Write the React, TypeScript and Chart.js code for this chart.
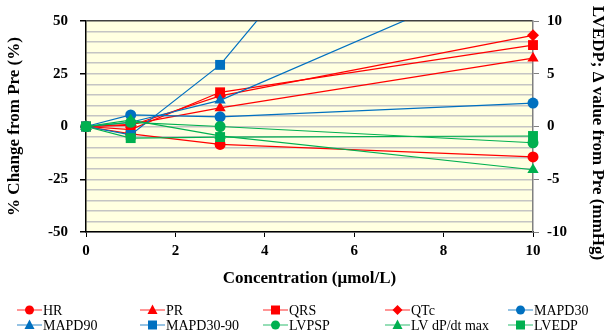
import React, { useEffect, useRef } from "react";
import { Chart, registerables } from "chart.js";
Chart.register(...registerables);

const concentrations = [0, 1, 3, 10];
const xTicks = [0, 2, 4, 6, 8, 10];
const HR = [0, -3.5, -8.5, -14.4];
const PR = [0, 1, 8.8, 32.4];
const QRS = [0, -1.5, 16.2, 38.6];
const QTc = [0, 0.5, 14.5, 43.2];
const MAPD30 = [0, 5.5, 4.6, 11.1];
const MAPD90 = [0, 2, 12.4, 76.5];
const MAPD30_90 = [0, -4, 29.2, 207];
const LVPSP = [0, 2, 0, -7.7];
const LVdPdtMax = [0, 3, -4.4, -20.5];
const LVEDP = [0, -1.1, -1.0, -0.9];
const rightAxisTitle = "LVEDP; Δ value from Pre (mmHg)";

const RED = "#FF0000";
const BLUE = "#0070C0";
const GREEN = "#00B050";
const FONT = "'Liberation Serif', 'Times New Roman', serif";

type S = { name: string; data: number[]; color: string; style: string; axis: string };
const series: S[] = [
  { name: "HR", data: HR, color: RED, style: "circle", axis: "y" },
  { name: "PR", data: PR, color: RED, style: "triangle", axis: "y" },
  { name: "QRS", data: QRS, color: RED, style: "rect", axis: "y" },
  { name: "QTc", data: QTc, color: RED, style: "rectRot", axis: "y" },
  { name: "MAPD30", data: MAPD30, color: BLUE, style: "circle", axis: "y" },
  { name: "MAPD90", data: MAPD90, color: BLUE, style: "triangle", axis: "y" },
  { name: "MAPD30-90", data: MAPD30_90, color: BLUE, style: "rect", axis: "y" },
  { name: "LVPSP", data: LVPSP, color: GREEN, style: "circle", axis: "y" },
  { name: "LV dP/dt max", data: LVdPdtMax, color: GREEN, style: "triangle", axis: "y" },
  { name: "LVEDP", data: LVEDP, color: GREEN, style: "rect", axis: "y1" },
];

function radiusFor(style: string) {
  if (style === "rect") return 7;
  if (style === "rectRot") return 6;
  if (style === "triangle") return 6.5;
  return 5.5;
}

function drawMarker(ctx: CanvasRenderingContext2D, style: string, x: number, y: number, r: number, color: string) {
  ctx.save();
  ctx.fillStyle = color;
  ctx.beginPath();
  if (style === "circle") {
    ctx.arc(x, y, r, 0, Math.PI * 2);
  } else if (style === "rect") {
    ctx.rect(x - r, y - r, 2 * r, 2 * r);
  } else if (style === "triangle") {
    ctx.moveTo(x, y - r * 1.1);
    ctx.lineTo(x + r, y + r * 0.8);
    ctx.lineTo(x - r, y + r * 0.8);
    ctx.closePath();
  } else if (style === "rectRot") {
    ctx.moveTo(x, y - r);
    ctx.lineTo(x + r, y);
    ctx.lineTo(x, y + r);
    ctx.lineTo(x - r, y);
    ctx.closePath();
  }
  ctx.fill();
  ctx.restore();
}

const bgPlugin = {
  id: "bg",
  beforeDraw(chart: any) {
    const { ctx, chartArea } = chart;
    ctx.save();
    ctx.fillStyle = "#FFFFE1";
    ctx.fillRect(chartArea.left, chartArea.top, chartArea.right - chartArea.left, chartArea.bottom - chartArea.top);
    ctx.restore();
  },
};

const legendPlugin = {
  id: "customLegend",
  afterDraw(chart: any) {
    const ctx: CanvasRenderingContext2D = chart.ctx;
    const colX = [17, 140, 263, 385, 508];
    const rowY = [310, 325];
    ctx.save();
    ctx.font = `14px ${FONT}`;
    ctx.textBaseline = "middle";
    series.forEach((s, i) => {
      const x = colX[i % 5];
      const y = rowY[Math.floor(i / 5)];
      ctx.strokeStyle = s.color;
      ctx.globalAlpha = 0.55;
      ctx.lineWidth = 1.5;
      ctx.beginPath();
      ctx.moveTo(x, y);
      ctx.lineTo(x + 25, y);
      ctx.stroke();
      ctx.globalAlpha = 1;
      const r = s.style === "rect" ? 4.5 : s.style === "circle" ? 4.5 : 5;
      drawMarker(ctx, s.style, x + 12.5, y, r, s.color);
      ctx.fillStyle = "#000";
      ctx.fillText(s.name, x + 26, y + 1);
    });
    // right axis title
    ctx.translate(597, 133);
    ctx.rotate(Math.PI / 2);
    ctx.font = `bold 17px ${FONT}`;
    ctx.textAlign = "center";
    ctx.textBaseline = "middle";
    ctx.fillText(rightAxisTitle, 0, 0);
    ctx.restore();
  },
};

export default function App() {
  const ref = useRef<HTMLCanvasElement | null>(null);
  useEffect(() => {
    document.body.style.margin = "0";
    const canvas = ref.current;
    if (!canvas) return;
    const chart = new Chart(canvas, {
      type: "line",
      data: {
        datasets: series.map((s, i) => ({
          label: s.name,
          data: concentrations.map((c, j) => ({ x: c, y: s.data[j] })),
          borderColor: s.color,
          backgroundColor: s.color,
          borderWidth: 1.2,
          pointStyle: s.style as any,
          pointRadius: radiusFor(s.style),
          pointBorderWidth: 0,
          pointBackgroundColor: s.color,
          yAxisID: s.axis,
          order: -i,
          clip: { left: 12, right: 12, top: 0, bottom: 12 } as any,
          tension: 0,
        })),
      },
      plugins: [bgPlugin, legendPlugin],
      options: {
        animation: false,
        responsive: false,
        devicePixelRatio: 1,
        layout: { padding: { top: 17, bottom: 44, left: 0, right: 0 } },
        plugins: { legend: { display: false }, tooltip: { enabled: false } },
        scales: {
          x: {
            type: "linear",
            min: 0,
            max: 10,
            afterBuildTicks: (scale: any) => {
              scale.ticks = xTicks.map((v) => ({ value: v }));
            },
            afterFit: (scale: any) => {
              scale.height = 58;
            },
            ticks: {
              color: "#000",
              font: { family: FONT, size: 15, weight: "bold" },
              padding: 5,
              maxRotation: 0,
            },
            grid: { drawOnChartArea: false, tickLength: 5, color: "#000" },
            border: { color: "#000", width: 1.5 },
            title: {
              display: true,
              text: "Concentration (μmol/L)",
              color: "#000",
              font: { family: FONT, size: 17, weight: "bold" },
              padding: { top: 2, bottom: 1 },
            },
          },
          y: {
            position: "left",
            min: -50,
            max: 50,
            ticks: {
              stepSize: 5,
              autoSkip: false,
              color: "#000",
              font: { family: FONT, size: 15, weight: "bold" },
              padding: 12,
              callback: (v: any) => (Number(v) % 25 === 0 ? String(v) : ""),
            },
            afterFit: (scale: any) => {
              scale.width = 86;
            },
            grid: {
              color: (c: any) => (c.tick && c.tick.value === 50 ? "#404040" : "#C4C4C4"),
              lineWidth: 1.5,
              tickLength: 6,
              tickColor: (c: any) => (c.tick && c.tick.value % 25 === 0 ? "#000" : "rgba(0,0,0,0)"),
            },
            border: { color: "#000", width: 1.5 },
            title: {
              display: true,
              text: "% Change from Pre (%)",
              color: "#000",
              font: { family: FONT, size: 17, weight: "bold" },
              padding: { top: 4, bottom: 2 },
            },
          },
          y1: {
            position: "right",
            min: -10,
            max: 10,
            ticks: {
              stepSize: 5,
              color: "#000",
              font: { family: FONT, size: 15, weight: "bold" },
              padding: 8,
            },
            afterFit: (scale: any) => {
              scale.width = 71;
            },
            grid: { drawOnChartArea: false, tickLength: 6, color: "#808080" },
            border: { color: "#808080", width: 1.5 },
            title: { display: false },
          },
        },
      } as any,
    });
    return () => chart.destroy();
  }, []);
  return (
    <div style={{ width: 604, height: 334 }}>
      <canvas ref={ref} width={604} height={334} />
    </div>
  );
}
